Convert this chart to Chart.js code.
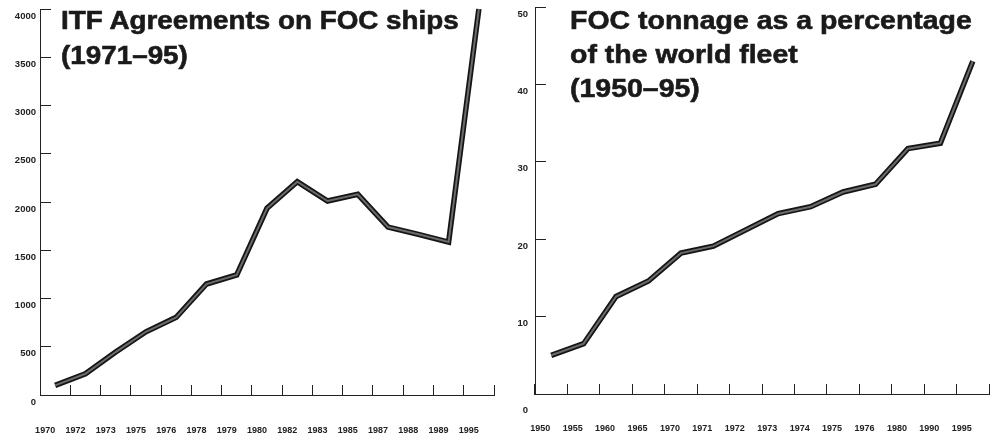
<!DOCTYPE html>
<html>
<head>
<meta charset="utf-8">
<script src="https://cdn.jsdelivr.net/npm/chart.js@4.4.1/dist/chart.umd.min.js"></script>
<style>
  html, body { margin: 0; padding: 0; background: #fff; }
  #wrap { position: relative; width: 991px; height: 436px; overflow: hidden; }
  .panel { position: absolute; top: 0; height: 436px; }
  .title {
    position: absolute;
    font-family: "Liberation Sans", Arial, sans-serif;
    font-weight: bold;
    font-size: 26px;
    color: #1a1a1a;
    -webkit-text-stroke: 0.6px #1a1a1a;
    white-space: nowrap;
    transform-origin: 0 0;
    pointer-events: none;
  }
</style>
</head>
<body>
<div id="wrap">
  <div class="panel" style="left:0;width:500px"><canvas id="itfChart"></canvas></div>
  <div class="panel" style="left:500px;width:491px"><canvas id="focChart"></canvas></div>
  <div class="title" style="left:61px;top:3px;line-height:34.5px;transform:scaleX(1.07)">ITF Agreements on FOC ships<br>(1971–95)</div>
  <div class="title" style="left:570px;top:3px;line-height:34px;transform:scaleX(1.095)">FOC tonnage as a percentage<br>of the world fleet<br>(1950–95)</div>
</div>
<script>
// ── ITF agreements (left) ──
const itfYears = ['1970', '1972', '1973', '1975', '1976', '1978', '1979', '1980', '1982', '1983', '1985', '1987', '1988', '1989', '1995'];
const itfAgreements = [100, 220, 445, 655, 805, 1150, 1245, 1935, 2210, 2010, 2080, 1740, 1665, 1585, 4000];
const itfTicks = [0, 4000, 500];

// ── FOC tonnage share (right) ──
const focYears = ['1950', '1955', '1960', '1965', '1970', '1971', '1972', '1973', '1974', '1975', '1976', '1980', '1990', '1995'];
const focShare = [5.0, 6.5, 12.6, 14.6, 18.2, 19.1, 21.2, 23.3, 24.2, 26.1, 27.1, 31.7, 32.4, 43.0];
const focTicks = [0, 50, 10];

const FONT = '"Liberation Sans", Arial, sans-serif';
const INK = '#222';

function lineSets(values) {
  // dark outline with a lighter core, like the printed halftone stroke
  const base = { data: values, pointRadius: 0, tension: 0, clip: false, borderJoinStyle: 'miter', borderCapStyle: 'butt' };
  return [
    { ...base, borderColor: '#6b6b6b', borderWidth: 2 },
    { ...base, borderColor: '#151515', borderWidth: 5.5 },
  ];
}

function makeChart(id, labels, values, ticks, cfg) {
  const [min, max, step] = ticks;
  return new Chart(document.getElementById(id), {
    type: 'line',
    data: { labels, datasets: lineSets(values) },
    options: {
      responsive: true,
      maintainAspectRatio: false,
      animation: false,
      layout: { padding: { top: cfg.top, right: cfg.right, left: 0, bottom: 0 } },
      plugins: { legend: { display: false }, tooltip: { enabled: false }, title: { display: false } },
      scales: {
        x: {
          type: 'category',
          offset: true,
          afterFit: s => { s.height = cfg.xHeight; s.paddingLeft = 0; s.paddingRight = 0; },
          border: { display: true, color: INK, width: 1 },
          grid: { offset: true, drawOnChartArea: false, drawTicks: true, tickLength: -10, color: INK, tickColor: INK, lineWidth: 1 },
          ticks: {
            autoSkip: false, maxRotation: 0, minRotation: 0,
            padding: cfg.xPad, labelOffset: cfg.xShift,
            color: INK, font: { family: FONT, size: 9, weight: 'bold' }
          }
        },
        y: {
          min, max,
          afterFit: s => { s.width = cfg.yWidth; s.paddingTop = 0; s.paddingBottom = 0; },
          border: { display: true, color: INK, width: 1 },
          grid: { drawOnChartArea: false, drawTicks: true, tickLength: -11, color: INK, tickColor: INK, lineWidth: 1 },
          ticks: {
            stepSize: step, padding: cfg.yPad, labelOffset: 7,
            // the zero label sits lower than the rest; an empty first line pushes it down
            callback: v => (v === 0 && cfg.zeroDrop ? ['', '0'] : String(v)),
            color: INK, font: { family: FONT, size: 9.5, weight: 'bold', lineHeight: cfg.zeroDrop || 1.2 }
          }
        }
      }
    }
  });
}

makeChart('itfChart', itfYears, itfAgreements, itfTicks, {
  top: 9, right: 6, xHeight: 41, yWidth: 40, xPad: 40, yPad: 15, xShift: -10, zeroDrop: 0
});
makeChart('focChart', focYears, focShare, focTicks, {
  top: 7, right: 2, xHeight: 42, yWidth: 35, xPad: 39, yPad: 18, xShift: -11, zeroDrop: 1.9
});
</script>
</body>
</html>
